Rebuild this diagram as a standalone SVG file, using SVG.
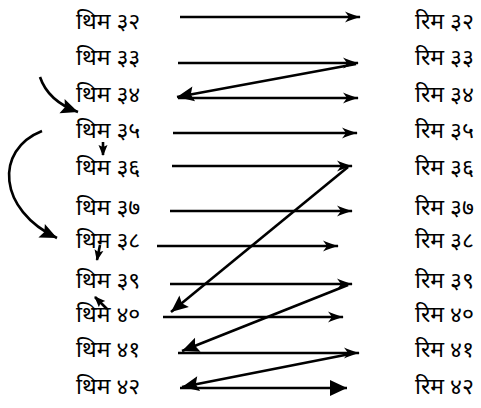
<svg xmlns="http://www.w3.org/2000/svg" width="481" height="408" viewBox="0 0 481 408">
<style>
  .lbl { font-family: "Noto Sans", "Noto Sans Devanagari", "Lohit Devanagari", sans-serif; font-size: 23px; fill: #000; }
  .ln { stroke: #000; stroke-width: 2.6; fill: none; }
  .open { marker-end: url(#stealth); }
  .fill { marker-end: url(#tri); }
</style>
<defs>
  <marker id="stealth" markerUnits="userSpaceOnUse" markerWidth="20" markerHeight="14" refX="16" refY="7" orient="auto" overflow="visible">
    <path d="M17,7 C12,6 5,3.2 1,1.5 L5,7 L1,12.5 C5,10.8 12,8 17,7 Z" fill="#000"/>
  </marker>
  <marker id="tri" markerUnits="userSpaceOnUse" markerWidth="20" markerHeight="16" refX="17" refY="8" orient="auto" overflow="visible">
    <path d="M17,8 L0,0.5 L3,8 L0,15.5 Z" fill="#000"/>
  </marker>
  <marker id="big" markerUnits="userSpaceOnUse" markerWidth="20" markerHeight="18" refX="17" refY="9" orient="auto" overflow="visible">
    <path d="M17,9 L0,1 L0,17 Z" fill="#000"/>
  </marker>
  <marker id="small" markerUnits="userSpaceOnUse" markerWidth="12" markerHeight="10" refX="10" refY="5" orient="auto" overflow="visible">
    <path d="M11,5 L0,0.5 L2,5 L0,9.5 Z" fill="#000"/>
  </marker>
</defs>

<g id="left-labels">
  <g id="n-l32"><text class="lbl" x="76" y="29">थिम ३२</text></g>
  <g id="n-l33"><text class="lbl" x="76" y="65">थिम ३३</text></g>
  <g id="n-l34"><text class="lbl" x="76" y="102">थिम ३४</text></g>
  <g id="n-l35"><text class="lbl" x="76" y="138">थिम ३५</text></g>
  <g id="n-l36"><text class="lbl" x="76" y="175">थिम ३६</text></g>
  <g id="n-l37"><text class="lbl" x="76" y="215">थिम ३७</text></g>
  <g id="n-l38"><text class="lbl" x="76" y="248">थिम ३८</text></g>
  <g id="n-l39"><text class="lbl" x="76" y="288">थिम ३९</text></g>
  <g id="n-l40"><text class="lbl" x="76" y="322">थिम ४०</text></g>
  <g id="n-l41"><text class="lbl" x="76" y="357">थिम ४१</text></g>
  <g id="n-l42"><text class="lbl" x="76" y="394">थिम ४२</text></g>
</g>
<g id="right-labels">
  <g id="n-r32"><text class="lbl" x="415" y="29">रिम ३२</text></g>
  <g id="n-r33"><text class="lbl" x="415" y="65">रिम ३३</text></g>
  <g id="n-r34"><text class="lbl" x="415" y="102">रिम ३४</text></g>
  <g id="n-r35"><text class="lbl" x="415" y="138">रिम ३५</text></g>
  <g id="n-r36"><text class="lbl" x="415" y="175">रिम ३६</text></g>
  <g id="n-r37"><text class="lbl" x="415" y="215">रिम ३७</text></g>
  <g id="n-r38"><text class="lbl" x="415" y="248">रिम ३८</text></g>
  <g id="n-r39"><text class="lbl" x="415" y="288">रिम ३९</text></g>
  <g id="n-r40"><text class="lbl" x="415" y="322">रिम ४०</text></g>
  <g id="n-r41"><text class="lbl" x="415" y="357">रिम ४१</text></g>
  <g id="n-r42"><text class="lbl" x="415" y="394">रिम ४२</text></g>
</g>

<g id="connectors">
  <line class="ln open" x1="180" y1="17" x2="360" y2="17"/>
  <line class="ln open" x1="178" y1="63" x2="358" y2="63"/>
  <line class="ln open" x1="178" y1="98" x2="358" y2="98"/>
  <line class="ln open" x1="173" y1="133" x2="357" y2="133"/>
  <line class="ln open" x1="172" y1="166" x2="352" y2="166"/>
  <line class="ln open" x1="170" y1="211" x2="352" y2="211"/>
  <line class="ln open" x1="157" y1="246" x2="338" y2="246"/>
  <line class="ln open" x1="170" y1="284" x2="352" y2="284"/>
  <line class="ln open" x1="163" y1="317" x2="343" y2="317"/>
  <line class="ln open" x1="178" y1="353" x2="359" y2="353"/>
  <line class="ln" x1="180" y1="388" x2="347" y2="388" marker-end="url(#big)"/>

  <line class="ln fill" x1="356" y1="64" x2="177" y2="97"/>
  <line class="ln fill" x1="348" y1="167" x2="171" y2="312"/>
  <line class="ln fill" x1="348" y1="285" x2="182" y2="351"/>
  <line class="ln fill" x1="350" y1="354" x2="182" y2="387"/>

  <path class="ln fill" d="M40,77 Q48,101 78,112"/>
  <path class="ln fill" d="M42,131 C-6,150 -2,210 57,238"/>
  <line class="ln" x1="103" y1="142" x2="103" y2="155" marker-end="url(#small)"/>
  <line class="ln" x1="100" y1="245" x2="97" y2="260" marker-end="url(#small)"/>
  <line class="ln" x1="107" y1="309" x2="95" y2="297" marker-end="url(#small)"/>
</g>
</svg>
